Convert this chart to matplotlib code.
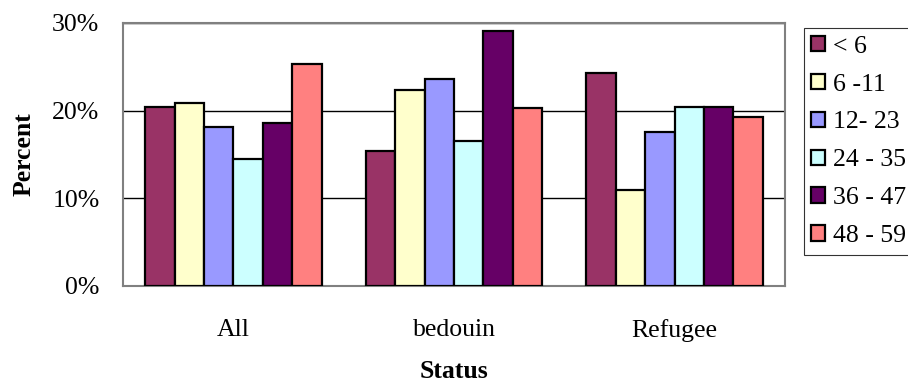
import numpy as np
import matplotlib.pyplot as plt

plt.rcParams['font.family'] = ['Liberation Serif', 'DejaVu Serif']

status = ['All', 'bedouin', 'Refugee']
age_groups = ['< 6', '6 -11', '12- 23', '24 - 35', '36 - 47', '48 - 59']
colors = ['#993366', '#FFFFCC', '#9999FF', '#CCFFFF', '#660066', '#FF8080']

# percent by age group, one list per status (All, bedouin, Refugee)
lt6 = [20.4, 15.4, 24.3]
m6_11 = [20.9, 22.3, 10.9]
m12_23 = [18.1, 23.6, 17.6]
m24_35 = [14.5, 16.5, 20.4]
m36_47 = [18.6, 29.1, 20.4]
m48_59 = [25.3, 20.3, 19.3]
series = [lt6, m6_11, m12_23, m24_35, m36_47, m48_59]

fs = 18.5

fig = plt.figure(figsize=(9.08, 3.87), dpi=100)
ax = fig.add_axes([0.1355, 0.261, 0.729, 0.6796])

x = np.arange(len(status))
w = 0.8 / len(series)
for i, vals in enumerate(series):
    ax.bar(x - 0.4 + w * (i + 0.5), np.array(vals) / 100, width=w,
           color=colors[i], edgecolor='black', linewidth=1.6,
           label=age_groups[i], zorder=3)

ax.set_xlim(-0.5, 2.5)
ax.set_ylim(0, 0.30)
ax.set_yticks([0, 0.1, 0.2, 0.3])
ax.set_yticklabels(['0%', '10%', '20%', '30%'])
ax.set_xticks(x)
ax.set_xticklabels(status)
ax.tick_params(length=0, labelsize=fs)
ax.tick_params(axis='y', pad=17)
ax.tick_params(axis='x', pad=24)
ax.yaxis.grid(True, color='black', linewidth=1, zorder=0)
for s in ax.spines.values():
    s.set_color('#808080')
    s.set_linewidth(1.5)

ax.set_xlabel('Status', fontsize=fs, fontweight='bold', labelpad=13)
ax.set_ylabel('Percent', fontsize=fs, fontweight='bold', labelpad=12)

leg = fig.legend(loc='upper left', bbox_to_anchor=(0.885, 0.928),
                 fontsize=fs, frameon=True, fancybox=False, edgecolor='black',
                 handlelength=0.55, handleheight=0.55, handletextpad=0.3,
                 labelspacing=0.62, borderpad=0.3, borderaxespad=0)
leg.get_frame().set_linewidth(0.8)

plt.savefig('out.png')
